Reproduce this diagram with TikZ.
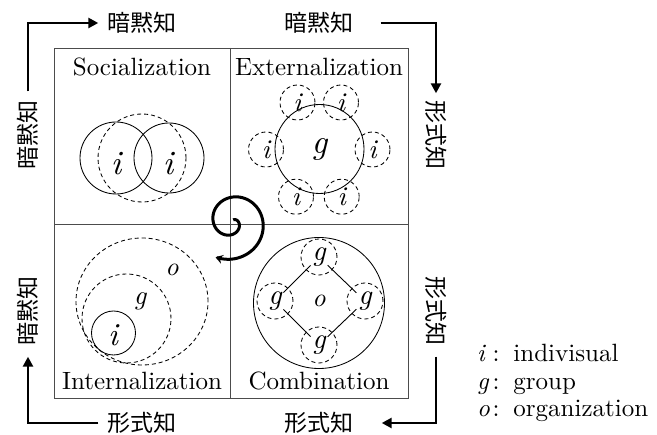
\documentclass[tikz,border=0pt]{standalone}
\usepackage{fontspec}
\setmainfont{lmroman10-regular.otf}[ItalicFont=lmroman10-italic.otf]
\newfontfamily\cjk{Noto Sans CJK JP}
\usetikzlibrary{arrows.meta}
\begin{document}
\begin{tikzpicture}[x=1pt,y=-1pt,
  lab/.style={font=\fontsize{25}{30}\selectfont, inner sep=0pt},
  var/.style={font=\fontsize{#1}{#1}\selectfont\itshape, inner sep=0pt},
  jp/.style={font=\cjk\fontsize{23}{28}\selectfont, inner sep=0pt},
  dsh/.style={draw, dash pattern=on 4pt off 3pt, line width=0.85pt},
  sol/.style={draw, line width=0.85pt},
  bigarrow/.style={line width=2.6pt, -{Triangle[length=10pt,width=10pt]}},
  grid/.style={draw=black!70, line width=0.9pt}]
\useasboundingbox (0,0) rectangle (657,435);
% frame
\draw[grid] (54,48) rectangle (408,398);
\draw[grid] (230,48) -- (230,398);
\draw[grid] (54,224) -- (408,224);
% quadrant titles
\node[lab, anchor=base] (soc) at (142,76) {Socialization};
\node[lab, anchor=base] (ext) at (319,76) {Externalization};
\node[lab, anchor=base] (int) at (142,390) {Internalization};
\node[lab, anchor=base] (com) at (319,390) {Combination};
% Socialization
\draw[sol] (116,158) circle[radius=36pt];
\draw[sol] (169,158) circle[radius=35pt];
\draw[dsh] (142,158) circle[radius=44pt];
\node[var=34] (s1) at (116,164) {i};
\node[var=34] (s2) at (168,164) {i};
% Externalization
\node[sol, circle, minimum size=89pt, var=34] (eg) at (319.5,149) {g};
\foreach \n/\px/\py in {e1/297.5/102.5, e2/341/102.5, e3/266/149.5, e4/372.5/149.5, e5/296/196.7, e6/341.7/196.7}
  \node[dsh, circle, minimum size=35pt, var=27] (\n) at (\px,\py) {i};
% Internalization
\draw[dsh] (142,301.5) ellipse[x radius=66pt, y radius=63.5pt];
\draw[dsh] (126.5,318.5) circle[radius=44.5pt];
\draw[sol] (113.5,333) circle[radius=22pt];
\node[var=26] (io) at (172,270) {o};
\node[var=27] (ig) at (140,301) {g};
\node[var=32] (ii) at (113,335) {i};
% Combination
\draw[sol] (319,303) circle[radius=65.5pt];
\node[var=26] (co) at (319,301) {o};
\node[dsh, circle, minimum size=36pt, var=29] (gT) at (319,257) {g};
\node[dsh, circle, minimum size=36pt, var=29] (gL) at (275,301) {g};
\node[dsh, circle, minimum size=36pt, var=29] (gR) at (365,301) {g};
\node[dsh, circle, minimum size=36pt, var=29] (gB) at (319,345) {g};
\foreach \a/\b in {gT/gL, gT/gR, gL/gB, gR/gB}
  \draw[line width=0.9pt, shorten <=12pt, shorten >=12pt] (\a.center) -- (\b.center);
% spiral
\draw[line width=3pt, -{Stealth[length=7pt,width=9pt]}]
  plot[domain=-60:475, samples=150, variable=\t, smooth]
  ({232+(6.5+0.068*\t)*cos(\t)}, {222+(6.5+0.068*\t)*sin(\t)});
% outer labels
\node[jp] (tl) at (142,23) {暗黙知};
\node[jp] (tr) at (319,23) {暗黙知};
\node[jp, rotate=-90] (rt1) at (436,135) {形式知};
\node[jp, rotate=-90] (rt2) at (436,311) {形式知};
\node[jp] (br) at (319,423) {形式知};
\node[jp] (bl) at (142,423) {形式知};
\node[jp, rotate=90] (lt1) at (28,135) {暗黙知};
\node[jp, rotate=90] (lt2) at (28,311) {暗黙知};
\draw[bigarrow, shorten <=9pt, shorten >=9pt] (lt1) |- (tl);
\draw[bigarrow, shorten <=27pt, shorten >=7pt] (tr) -| (rt1);
\draw[bigarrow, shorten <=11pt, shorten >=28pt] (rt2) |- (br);
\draw[bigarrow, shorten <=9pt, shorten >=11pt] (bl) -| (lt2);
% legend
\node[lab, anchor=base west] (l1) at (477,362) {\makebox[0.62em][l]{\itshape i}:\hspace{0.55em}indivisual};
\node[lab, anchor=base west] (l2) at (477,390) {\makebox[0.62em][l]{\itshape g}:\hspace{0.55em}group};
\node[lab, anchor=base west] (l3) at (477,417) {\makebox[0.62em][l]{\itshape o}:\hspace{0.55em}organization};
\end{tikzpicture}
\end{document}
